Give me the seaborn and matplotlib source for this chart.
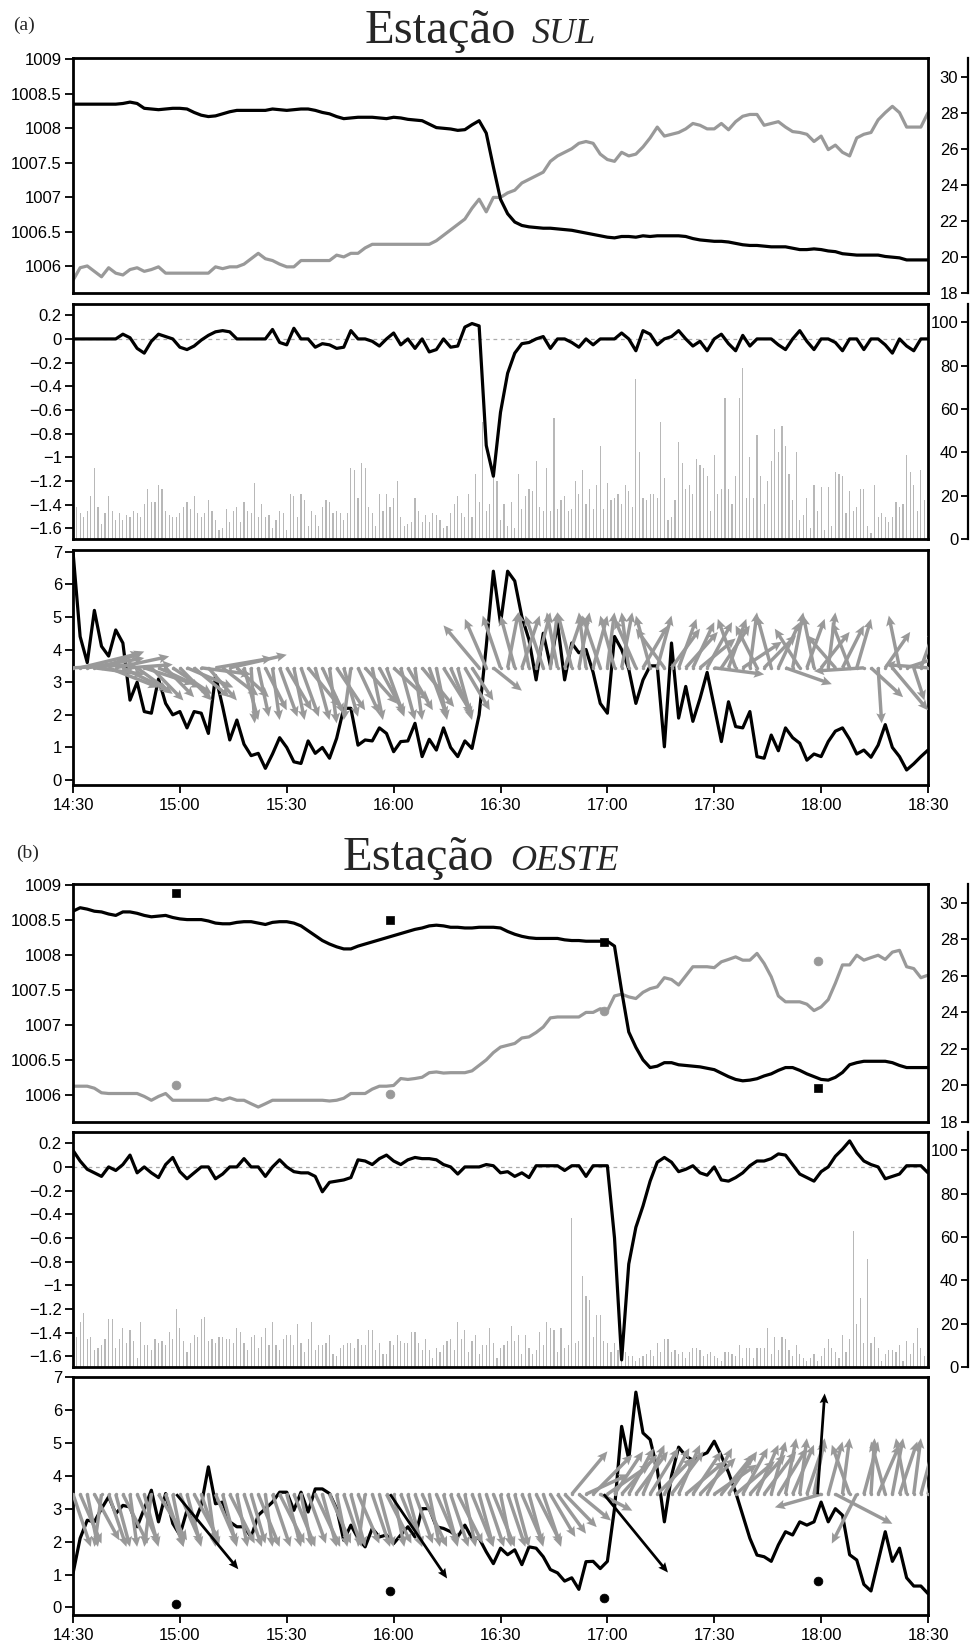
import numpy as np
import matplotlib
matplotlib.use("Agg")
import matplotlib.pyplot as plt
import seaborn as sns
from matplotlib.ticker import FuncFormatter

# ---------------- data ----------------
TIME_TICKS = [0, 30, 60, 90, 120, 150, 180, 210, 240]
TIME_LABELS = ["14:30", "15:00", "15:30", "16:00", "16:30", "17:00", "17:30", "18:00", "18:30"]
MIN2 = list(range(0, 241, 2))      # minutes after 14:30 (2-min samples)
MIN1 = list(range(1, 240))         # minutes after 14:30 (1-min bars)
ARROW_BASE = 3.44                  # level from which wind arrows are drawn

# ---- Estação SUL ----
P_SUL = [1008.35,1008.35,1008.35,1008.35,1008.35,1008.35,1008.35,1008.36,1008.38,1008.36,
         1008.29,1008.28,1008.27,1008.28,1008.29,1008.29,1008.28,1008.23,1008.19,1008.17,
         1008.18,1008.21,1008.24,1008.26,1008.26,1008.26,1008.26,1008.26,1008.28,1008.27,
         1008.26,1008.27,1008.28,1008.28,1008.26,1008.23,1008.21,1008.17,1008.14,1008.15,
         1008.16,1008.16,1008.16,1008.15,1008.14,1008.16,1008.15,1008.13,1008.12,1008.11,
         1008.06,1008.01,1008.00,1007.99,1007.97,1007.98,1008.05,1008.11,1007.93,1007.44,
         1006.97,1006.76,1006.64,1006.59,1006.57,1006.56,1006.55,1006.55,1006.54,1006.53,
         1006.52,1006.50,1006.48,1006.46,1006.44,1006.42,1006.41,1006.43,1006.43,1006.42,
         1006.44,1006.43,1006.44,1006.44,1006.44,1006.44,1006.43,1006.40,1006.38,1006.37,
         1006.36,1006.36,1006.35,1006.33,1006.31,1006.30,1006.30,1006.29,1006.28,1006.28,
         1006.28,1006.26,1006.24,1006.24,1006.25,1006.24,1006.22,1006.21,1006.18,1006.17,
         1006.16,1006.16,1006.16,1006.16,1006.14,1006.13,1006.12,1006.09,1006.09,1006.09,
         1006.09]
T_SUL = [18.7,19.4,19.5,19.2,18.9,19.4,19.1,19.0,19.3,19.4,
         19.2,19.3,19.45,19.1,19.1,19.1,19.1,19.1,19.1,19.1,
         19.45,19.35,19.45,19.45,19.6,19.9,20.2,19.9,19.8,19.6,
         19.45,19.45,19.8,19.8,19.8,19.8,19.8,20.1,20.0,20.2,
         20.2,20.5,20.7,20.7,20.7,20.7,20.7,20.7,20.7,20.7,
         20.7,20.9,21.2,21.5,21.8,22.1,22.7,23.2,22.5,23.3,
         23.3,23.55,23.7,24.1,24.3,24.5,24.7,25.3,25.6,25.8,
         26.0,26.3,26.4,26.3,25.7,25.4,25.3,25.8,25.6,25.7,
         26.1,26.6,27.2,26.7,26.8,26.9,27.1,27.4,27.3,27.1,
         27.1,27.4,27.05,27.5,27.8,27.9,27.9,27.3,27.4,27.5,
         27.2,26.95,26.9,26.8,26.4,26.7,25.95,26.2,25.8,25.6,
         26.6,26.8,26.9,27.6,28.0,28.35,28.0,27.2,27.2,27.2,
         28.0]
DP_SUL = [0,0,0,0,0,0,0,0.04,0.01,-0.08,
          -0.12,-0.02,0.04,0.02,0,-0.07,-0.09,-0.06,-0.01,0.03,
          0.06,0.07,0.06,0,0,0,0,0,0.08,-0.03,
          -0.05,0.09,0,0,-0.07,-0.04,-0.05,-0.08,-0.07,0.07,
          0,0,-0.02,-0.06,0,0.05,-0.05,0,-0.08,0,
          -0.11,-0.09,0,-0.07,-0.06,0.1,0.13,0.11,-0.9,-1.16,
          -0.62,-0.29,-0.12,-0.04,-0.03,0,0.02,-0.08,0,0,
          -0.03,-0.07,0,-0.05,0,0,0,0.05,0,-0.1,
          0.07,0.04,-0.05,0,0.02,0.07,0,-0.06,-0.02,-0.1,
          0,0.04,-0.04,-0.1,0.03,-0.06,0,0,0,-0.05,
          -0.09,0,0.07,-0.02,-0.09,0,0,-0.03,-0.1,0,
          0,-0.09,0,0,-0.05,-0.12,0,-0.06,-0.1,0,
          0]
BAR_SUL = [15,12,10,13,20,33,15,7,12,20,13,9,12,9,11,10,13,12,10,16,
           23,17,17,25,23,13,11,10,10,12,15,17,14,20,12,10,12,18,13,9,
           4,5,14,8,13,15,8,17,13,12,26,10,16,10,11,5,9,13,12,4,
           21,20,10,21,18,6,13,11,6,15,18,17,12,13,12,9,12,33,32,19,
           35,33,15,12,6,21,13,21,15,19,27,10,6,7,8,19,13,8,11,8,
           12,11,9,5,6,12,16,20,12,10,21,10,30,17,54,13,16,28,
           27,9,16,6,17,5,30,14,20,23,22,36,15,13,33,13,56,14,18,20,
           13,14,27,21,32,16,23,14,25,43,14,26,18,19,21,16,25,22,15,74,
           40,19,18,21,21,19,54,28,9,10,18,45,35,23,25,21,37,34,33,29,
           13,39,21,23,65,23,16,29,65,79,19,38,19,48,29,16,27,36,51,40,
           52,43,30,18,40,9,11,19,5,25,13,24,4,24,6,31,30,29,12,22,
           13,15,23,23,6,3,25,10,12,10,8,10,17,15,16,39,31,25,13,32,18]
WS_SUL = [7.0,4.4,3.6,5.2,4.1,3.8,4.6,4.2,2.45,3.0,
          2.1,2.05,3.1,2.35,2.0,2.1,1.6,2.1,2.05,1.43,
          3.2,2.25,1.23,1.84,1.1,0.75,0.82,0.36,0.8,1.3,
          1.0,0.56,0.51,1.2,0.82,1.0,0.67,1.28,2.2,2.2,
          1.07,1.23,1.2,1.6,1.43,0.87,1.18,1.2,1.74,0.72,
          1.25,0.92,1.6,1.0,0.72,1.2,0.97,2.0,4.1,6.4,
          4.8,6.4,6.1,5.0,4.3,3.07,4.5,3.5,4.8,3.07,
          4.2,3.9,4.0,3.3,2.35,2.05,4.4,4.0,3.4,2.35,
          3.07,3.5,3.5,1.02,4.2,1.9,2.87,1.8,2.5,3.3,
          2.25,1.18,2.4,1.64,1.6,2.1,0.72,0.67,1.38,0.9,
          1.6,1.3,1.13,0.61,0.8,0.72,1.18,1.5,1.6,1.25,
          0.8,0.92,0.7,1.07,1.7,1.0,0.72,0.31,0.5,0.72,
          0.92]
U_SUL = [18,17,16,14,12,14,15,13,12,10,
         14,9,12,8,11,9,13,10,14,8,
         16,10,16,9,4,1,3,6,2,5,
         7,3,5,9,4,6,2,8,4,-2,
         6,9,3,7,5,10,4,7,2,9,
         5,3,8,6,4,7,6,-10,-6,8,
         -5,3,-4,5,-3,4,-5,2,-3,5,
         -4,3,-2,4,-5,2,-4,3,-2,-6,
         7,-4,4,-8,8,5,9,6,10,7,
         14,8,5,-5,11,2,-6,9,-4,6,
         13,3,-7,5,-3,8,2,-8,6,-5,
         4,-14,9,1,7,10,-3,11,3,4,
         -12]
V_SUL = [0.1,0.45,0.3,-0.2,0.5,-0.6,0.35,-0.7,0.1,-0.8,
         -0.5,-1.0,-0.6,-0.9,-0.8,-1.0,-0.6,-0.9,-0.2,-1.0,
         0.3,-0.85,0.4,-0.9,-1.6,-1.7,-1.5,-1.3,-1.6,-1.5,
         -1.3,-1.6,-1.5,-1.2,-1.6,-1.4,-1.7,-1.3,-1.5,-1.6,
         -1.4,-1.1,-1.6,-1.4,-1.5,-1.0,-1.6,-1.3,-1.6,-1.2,
         -1.5,-1.6,-1.4,-1.5,-1.6,-1.3,-1.0,1.3,1.5,-0.7,
         1.6,1.7,1.6,1.6,1.7,1.7,1.6,1.7,1.7,1.6,
         1.7,1.7,1.7,1.6,1.6,1.7,1.6,1.7,1.7,1.5,
         1.3,1.6,1.6,1.2,1.2,1.5,1.1,1.4,0.9,1.4,
         -0.2,1.3,1.5,1.5,0.8,1.7,1.3,1.0,1.6,1.4,
         -0.5,1.7,1.2,1.5,1.6,1.1,1.7,1.0,1.3,1.4,
         1.5,-0.1,-0.9,-1.7,1.1,-1.3,1.6,0.4,-1.0,1.2,
         0.1]

# ---- Estação OESTE ----
P_OESTE = [1008.63,1008.68,1008.66,1008.63,1008.62,1008.59,1008.57,1008.62,1008.62,1008.60,
           1008.57,1008.55,1008.56,1008.57,1008.54,1008.52,1008.51,1008.51,1008.51,1008.49,
           1008.46,1008.45,1008.45,1008.47,1008.48,1008.48,1008.46,1008.44,1008.47,1008.48,
           1008.48,1008.46,1008.42,1008.35,1008.28,1008.21,1008.16,1008.12,1008.09,1008.09,
           1008.13,1008.16,1008.19,1008.22,1008.25,1008.28,1008.31,1008.34,1008.37,1008.39,
           1008.42,1008.43,1008.42,1008.40,1008.40,1008.39,1008.39,1008.40,1008.40,1008.40,
           1008.39,1008.34,1008.30,1008.27,1008.25,1008.24,1008.24,1008.24,1008.24,1008.22,
           1008.21,1008.21,1008.20,1008.20,1008.20,1008.20,1008.13,1007.49,1006.90,1006.68,
           1006.50,1006.39,1006.41,1006.46,1006.46,1006.43,1006.42,1006.41,1006.40,1006.38,
           1006.36,1006.31,1006.26,1006.22,1006.20,1006.21,1006.23,1006.27,1006.30,1006.35,
           1006.39,1006.39,1006.35,1006.30,1006.26,1006.22,1006.21,1006.25,1006.32,1006.43,
           1006.46,1006.48,1006.48,1006.48,1006.48,1006.46,1006.42,1006.39,1006.39,1006.39,
           1006.39]
T_OESTE = [19.96,19.96,19.96,19.85,19.6,19.56,19.56,19.56,19.56,19.56,
           19.4,19.19,19.4,19.56,19.19,19.19,19.19,19.19,19.19,19.19,
           19.3,19.19,19.32,19.19,19.19,19.0,18.82,19.0,19.19,19.19,
           19.19,19.19,19.19,19.19,19.19,19.19,19.15,19.19,19.3,19.56,
           19.56,19.56,19.8,19.96,19.96,20.0,20.38,20.33,20.38,20.45,
           20.7,20.74,20.68,20.7,20.7,20.7,20.8,21.1,21.4,21.8,
           22.1,22.2,22.3,22.6,22.66,22.9,23.2,23.7,23.75,23.75,
           23.75,23.75,24.0,24.0,24.2,24.1,24.9,25.0,24.85,24.76,
           25.1,25.3,25.4,25.9,25.8,25.5,26.0,26.5,26.5,26.5,
           26.45,26.77,26.9,27.04,26.86,26.86,27.23,26.68,25.95,24.9,
           24.58,24.58,24.58,24.45,24.1,24.3,24.7,25.6,26.6,26.6,
           27.13,26.86,27.0,27.13,26.9,27.3,27.4,26.5,26.4,25.9,
           26.04]
DP_OESTE = [0.14,0.05,-0.02,-0.05,-0.08,0,-0.03,0.02,0.1,-0.05,
            0,-0.05,-0.09,0.02,0.08,-0.04,-0.1,-0.05,0,0,
            -0.1,-0.06,0,0,0.07,0,0,-0.08,0,0.06,
            0,-0.04,-0.05,-0.05,-0.08,-0.21,-0.13,-0.12,-0.11,-0.09,
            0.06,0.05,0.02,0.07,0.1,0.05,0.02,0.06,0.08,0.07,
            0.07,0.06,0.02,0,-0.06,0,0,0,0.02,0.01,
            -0.05,-0.04,-0.08,-0.05,-0.09,0.01,0.01,0.01,0.01,-0.03,
            0.01,0.01,-0.08,0.01,0.01,0.01,-0.6,-1.63,-0.82,-0.51,
            -0.33,-0.12,0.04,0.08,0.04,-0.04,-0.02,0.01,-0.05,-0.07,
            0,-0.11,-0.12,-0.09,-0.05,0.01,0.05,0.05,0.07,0.11,
            0.1,0.02,-0.06,-0.09,-0.12,-0.04,0,0.09,0.15,0.22,
            0.12,0.05,0.02,0,-0.1,-0.08,-0.06,0.01,0.01,0.01,
            -0.05]
BAR_OESTE = [14,21,25,13,14,8,9,10,13,22,22,9,13,18,11,17,12,4,21,10,
             10,8,13,11,12,10,16,13,27,18,12,7,11,15,14,22,23,12,13,11,
             14,14,13,13,11,18,16,11,8,14,15,9,14,18,10,21,10,8,13,15,
             15,10,20,11,7,13,21,8,10,10,11,15,6,5,9,10,11,11,9,13,
             10,10,17,17,8,11,6,6,12,10,15,12,11,11,16,16,11,8,13,8,
             4,9,7,10,12,13,8,21,13,17,7,12,15,6,10,10,
             18,11,4,9,10,12,19,12,15,6,15,9,6,8,16,10,21,18,17,7,
             18,9,10,69,11,12,42,33,31,14,24,24,12,11,7,11,8,7,7,5,
             5,3,4,5,6,8,5,11,7,13,13,7,8,6,7,4,7,9,9,8,
             5,6,7,5,4,3,7,7,6,5,10,4,9,9,4,9,9,9,18,6,
             14,8,14,13,8,5,10,6,4,3,4,6,3,5,9,13,9,7,4,15,
             7,13,63,20,32,11,50,11,14,9,3,6,8,8,7,10,3,12,6,11,
             18,9,5]
WS_OESTE = [1.03,2.1,2.65,2.6,3.0,3.36,2.85,3.1,3.05,2.45,
            3.0,3.56,2.6,3.46,2.55,2.2,2.95,2.55,3.1,4.27,
            3.15,3.2,2.6,2.45,2.45,2.14,2.8,3.0,3.2,3.5,
            3.5,2.95,3.5,2.9,3.6,3.6,3.46,3.0,2.04,2.5,
            2.1,1.84,2.4,2.14,2.2,1.94,2.2,2.45,2.14,3.0,
            3.0,2.45,2.4,2.3,2.14,2.5,2.1,2.1,1.69,1.33,
            1.8,1.6,1.75,1.3,1.84,1.8,1.54,1.15,1.05,0.8,
            0.9,0.55,1.39,1.4,1.18,1.4,3.0,5.5,4.5,6.54,
            5.3,5.1,4.2,2.6,4.0,4.87,4.6,4.47,4.6,4.7,
            5.05,4.6,4.1,3.5,2.8,2.1,1.59,1.54,1.4,1.9,
            2.3,2.2,2.6,2.5,2.6,3.2,2.6,3.0,2.8,1.6,
            1.44,0.7,0.5,1.4,2.3,1.4,1.8,0.9,0.65,0.65,
            0.42]
U_OESTE = [5,6,3,7,-2,5,4,7,2,6,
           4,-2,8,5,3,6,4,7,5,2,
           6,4,7,3,5,4,6,2,5,7,
           4,6,3,5,7,4,6,3,5,4,
           6,-2,5,4,7,3,6,4,5,7,
           3,6,4,5,7,3,6,4,5,6,
           3,5,4,6,4,7,5,7,8,9,
           10,9,12,11,9,12,8,10,7,9,
           6,8,10,7,9,6,11,8,10,7,
           12,9,8,11,7,10,6,9,4,8,
           3,6,2,5,3,-13,4,16,2,-5,
           -7,4,1,6,-4,3,5,-3,2,4,
           3]
V_OESTE = [-1.6,-1.5,-1.6,-1.4,-1.6,-1.6,-1.6,-1.5,-1.6,-1.5,
           -1.6,-1.6,-1.4,-1.6,-1.6,-1.5,-1.6,-1.4,-1.6,-1.6,
           -1.5,-1.6,-1.5,-1.6,-1.6,-1.5,-1.6,-1.6,-1.6,-1.5,
           -1.6,-1.6,-1.6,-1.5,-1.6,-1.6,-1.5,-1.6,-1.6,-1.6,
           -1.5,-1.6,-1.6,-1.6,-1.5,-1.6,-1.6,-1.6,-1.5,-1.6,
           -1.6,-1.5,-1.6,-1.6,-1.5,-1.6,-1.6,-1.6,-1.6,-1.6,
           -1.6,-1.6,-1.6,-1.5,-1.6,-1.5,-1.6,-1.3,-1.2,-1.0,
           1.3,-0.8,0.6,1.2,-0.5,0.9,1.3,1.2,1.4,1.3,
           1.5,1.4,1.1,1.4,1.3,1.5,1.0,1.3,1.1,1.4,
           0.9,1.2,1.3,1.0,1.4,1.2,1.5,1.3,1.6,1.4,
           1.7,1.5,1.7,1.6,1.7,-0.4,1.6,-0.9,1.7,1.5,
           -1.5,1.6,1.7,1.5,1.6,1.7,1.6,1.7,1.7,1.6,
           1.5]
# hourly conventional observations (OESTE)
HOUR_T = [29, 89, 149, 209]
HOUR_P = [1008.89, 1008.50, 1008.19, 1006.10]
HOUR_TEMP = [20.0, 19.56, 24.1, 26.8]
HOUR_U = [17.4, 16.0, 18.0, 2.0]
HOUR_V = [-2.28, -2.56, -2.38, 3.06]
HOUR_WS = [0.10, 0.50, 0.28, 0.80]

# ---------------- style ----------------
sns.set_theme(style="white")
plt.rcParams["font.family"] = ["Liberation Sans", "DejaVu Sans"]
GRAY = "#999999"
BARC = "#b8b8b8"
W, H = 972, 1642
fig = plt.figure(figsize=(W / 100, H / 100), dpi=100)


def fmt(v, pos):
    return ("%g" % round(v, 3)).replace("-", "\u2212")


def add_ax(top, bottom):
    return fig.add_axes([73 / W, 1 - bottom / H, 855 / W, (bottom - top) / H])


def style_main(ax, ylim, yticks, xlabels=False):
    ax.set_xlim(0, 240)
    ax.set_ylim(*ylim)
    ax.set_yticks(yticks)
    ax.yaxis.set_major_formatter(FuncFormatter(fmt))
    for s in ax.spines.values():
        s.set_visible(True)
        s.set_color("black")
        s.set_linewidth(2.0)
    ax.tick_params(axis="y", left=True, right=False, direction="out", length=6,
                   width=1.3, pad=2, labelsize=12, colors="black")
    if xlabels:
        ax.set_xticks(TIME_TICKS)
        ax.set_xticklabels(TIME_LABELS)
        ax.tick_params(axis="x", bottom=True, direction="out", length=6, width=1.3,
                       pad=3, labelsize=12, colors="black")
    else:
        ax.set_xticks([])
    ax.set_xlabel("")
    ax.set_ylabel("")
    ax.grid(False)


def right_axis(ax, ylim, yticks):
    ax2 = ax.twinx()
    ax2.set_ylim(*ylim)
    for s in ["top", "bottom", "right"]:
        ax2.spines[s].set_visible(False)
    sp = ax2.spines["left"]
    sp.set_visible(True)
    sp.set_position(("axes", 1 + 40 / 855))
    sp.set_color("black")
    sp.set_linewidth(1.6)
    ax2.yaxis.set_ticks_position("left")
    ax2.set_yticks(yticks)
    ax2.yaxis.set_major_formatter(FuncFormatter(fmt))
    ax2.tick_params(axis="y", left=True, right=False, direction="out", length=5,
                    width=1.3, pad=2, labelsize=12, colors="black")
    ax2.grid(False)
    ax.set_zorder(ax2.get_zorder() + 1)
    ax.patch.set_visible(False)
    return ax2


def pressure_panel(top, bottom, p, t):
    ax = add_ax(top, bottom)
    ax2 = right_axis(ax, (18, 31.03), [18, 20, 22, 24, 26, 28, 30])
    sns.lineplot(x=MIN2, y=t, ax=ax2, color=GRAY, linewidth=2.3, legend=False)
    sns.lineplot(x=MIN2, y=p, ax=ax, color="black", linewidth=2.3, legend=False)
    style_main(ax, (1005.61, 1009.02), [1006, 1006.5, 1007, 1007.5, 1008, 1008.5, 1009])
    ax2.set_ylim(18, 31.03)
    ax2.set_ylabel("")
    return ax, ax2


def tendency_panel(top, bottom, dp, bars):
    ax = add_ax(top, bottom)
    ax2 = right_axis(ax, (0, 108.5), [0, 20, 40, 60, 80, 100])
    ax2.bar(MIN1[:len(bars)], bars, width=0.32, color=BARC, linewidth=0)
    ax.axhline(0, color="#aaaaaa", lw=0.9, ls=(0, (3, 3)), zorder=1)
    sns.lineplot(x=MIN2, y=dp, ax=ax, color="black", linewidth=2.3, legend=False)
    style_main(ax, (-1.69, 0.295),
               [-1.6, -1.4, -1.2, -1.0, -0.8, -0.6, -0.4, -0.2, 0, 0.2])
    ax2.set_ylim(0, 108.5)
    ax2.set_xlim(0, 240)
    ax2.set_ylabel("")
    return ax, ax2


def wind_panel(top, bottom, ws, u, v, ylim):
    ax = add_ax(top, bottom)
    sns.lineplot(x=MIN2, y=ws, ax=ax, color="black", linewidth=2.3, legend=False, zorder=2)
    base = [ARROW_BASE] * len(MIN2)
    ax.quiver(MIN2, base, u, v, angles="xy", scale_units="xy", scale=1,
              color=GRAY, width=0.0040, headwidth=2.8, headlength=3.0,
              headaxislength=2.6, zorder=3)
    ax.scatter(MIN2, base, s=6, color=GRAY, zorder=3, linewidths=0)
    style_main(ax, ylim, [0, 1, 2, 3, 4, 5, 6, 7], xlabels=True)
    return ax


# ---------------- (a) SUL ----------------
pressure_panel(58, 293, P_SUL, T_SUL)
tendency_panel(304, 539, DP_SUL, BAR_SUL)
wind_panel(550, 785, WS_SUL, U_SUL, V_SUL, (-0.15, 7.05))

# ---------------- (b) OESTE ----------------
axp, axt = pressure_panel(884, 1122, P_OESTE, T_OESTE)
sns.scatterplot(x=HOUR_T, y=HOUR_P, ax=axp, marker="s", s=38, color="black",
                edgecolor="black", legend=False, zorder=5)
sns.scatterplot(x=HOUR_T, y=HOUR_TEMP, ax=axt, marker="o", s=40, color=GRAY,
                edgecolor=GRAY, legend=False, zorder=5)
axp.set_xlim(0, 240); axp.set_xlabel(""); axp.set_ylabel("")
axt.set_ylabel("")
tendency_panel(1132, 1367, DP_OESTE, BAR_OESTE)
axw = wind_panel(1377, 1615, WS_OESTE, U_OESTE, V_OESTE, (-0.23, 7.0))
axw.quiver(HOUR_T, [ARROW_BASE] * len(HOUR_T), HOUR_U, HOUR_V, angles="xy",
           scale_units="xy", scale=1, color="black", width=0.0032, headwidth=3.2,
           headlength=3.6, headaxislength=3.2, zorder=4)
sns.scatterplot(x=HOUR_T, y=HOUR_WS, ax=axw, marker="o", s=40, color="black",
                edgecolor="black", legend=False, zorder=5)
axw.set_xlim(0, 240); axw.set_ylim(-0.23, 7.0)
axw.set_xlabel(""); axw.set_ylabel("")

# ---------------- titles ----------------
SERIF = ["Liberation Serif", "DejaVu Serif"]
fig.text(13 / W, 1 - 30 / H, "(a)", fontsize=14, family=SERIF, ha="left", va="baseline")
fig.text(365 / W, 1 - 43 / H, "Estação", fontsize=35, family=SERIF, ha="left", va="baseline")
fig.text(532 / W, 1 - 43 / H, "SUL", fontsize=26, family=SERIF, style="italic",
         ha="left", va="baseline")
fig.text(16 / W, 1 - 858 / H, "(b)", fontsize=14, family=SERIF, ha="left", va="baseline")
fig.text(343 / W, 1 - 870 / H, "Estação", fontsize=35, family=SERIF, ha="left", va="baseline")
fig.text(510 / W, 1 - 870 / H, "OESTE", fontsize=26, family=SERIF, style="italic",
         ha="left", va="baseline")

fig.savefig("out.png", dpi=100)
